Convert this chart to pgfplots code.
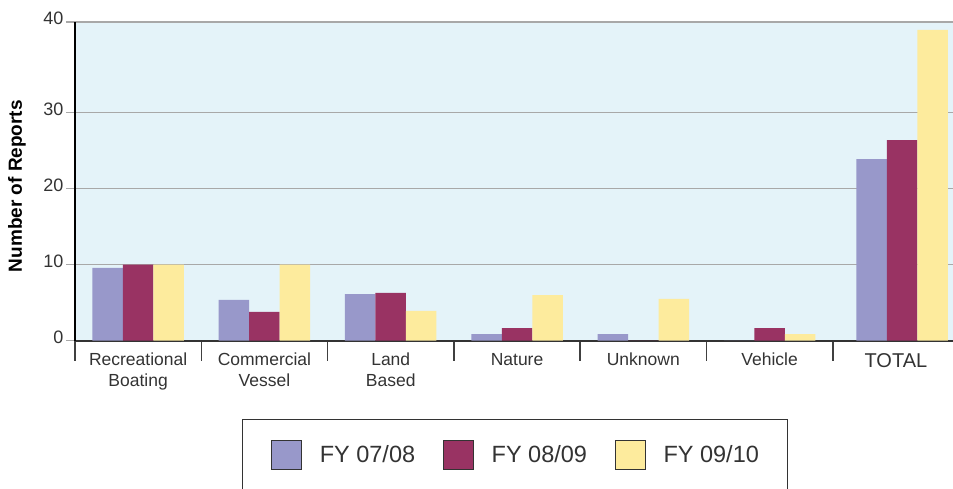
\documentclass[border=0pt]{standalone}
\usepackage{fontspec}
\setmainfont{Liberation Sans}
\usepackage{pgfplots}
\pgfplotsset{compat=1.18}
\definecolor{c1}{HTML}{9898CA}
\definecolor{c2}{HTML}{993363}
\definecolor{c3}{HTML}{FDEB9D}
\definecolor{bg}{HTML}{E4F3F9}
\definecolor{txt}{HTML}{333333}
\definecolor{grd}{HTML}{A8A8A8}
\begin{document}
\begin{tikzpicture}
\begin{axis}[
  at={(75pt,147.3pt)}, anchor=south west,
  scale only axis, width=878pt, height=318.7pt,
  xmin=-0.5, xmax=6.452, ymin=0, ymax=41.93,
  axis background/.style={fill=bg},
  axis lines*=left, axis line style={-},
  x axis line style={draw=black!80, line width=2pt},
  y axis line style={draw=black, line width=1.5pt},
  ybar=0pt, bar width=30.5pt,
  /pgf/number format/assume math mode=true,
  xtick={0,...,6},
  xticklabels={Recreational\\Boating, Commercial\\Vessel, Land\\Based, Nature, Unknown, Vehicle, {\fontsize{20}{24}\selectfont TOTAL}},
  xticklabel style={align=center, font=\fontsize{17.5}{21}\selectfont, text=txt},
  minor xtick={-0.5,0.5,...,5.5},
  tick align=outside,
  major x tick style={draw=none},
  minor x tick style={draw=black!75, line width=1.5pt},
  minor tick length=20pt,
  major tick length=9pt,
  ytick={0,10,20,30,41.93},
  yticklabels={0,10,20,30,40},
  yticklabel style={font=\fontsize{18}{21}\selectfont, text=txt, yshift=3.5pt, xshift=1pt},
  major y tick style={draw=grd, line width=1.3pt},
  ymajorgrids,
  grid style={draw=grd, line width=1.3pt},
  every axis y label/.style={at={(axis description cs:-0.066,0.485)}, rotate=90, anchor=center},
  ylabel={\fontsize{19}{22}\selectfont\bfseries Number of Reports},
  legend columns=3,
  legend image code/.code={\draw[#1, draw=black!80, line width=1pt] (0pt,-14.5pt) rectangle (29.5pt,14.5pt);},
  legend style={at={(0.19,-0.2457)}, anchor=north west, draw=black!80, line width=1pt, fill=white,
    font=\fontsize{23.5}{28}\selectfont, text=txt,
    inner xsep=29pt, inner ysep=20pt,
    nodes={inner xsep=0pt, inner ysep=2pt},
    /tikz/every odd column/.append style={column sep=18pt},
    /tikz/every even column/.append style={column sep=28pt}},
]
\addplot[fill=c1, draw=none] coordinates {(0,9.57) (1,5.36) (2,6.14) (3,0.88) (4,0.88) (5,0) (6.05,23.9)};
\addplot[fill=c2, draw=none] coordinates {(0,10) (1,3.78) (2,6.28) (3,1.67) (4,0) (5,1.67) (6.05,26.4)};
\addplot[fill=c3, draw=none] coordinates {(0,10) (1,10) (2,3.91) (3,6.01) (4,5.49) (5,0.88) (6.05,40.9)};
\legend{FY 07/08, FY 08/09, FY 09/10}
\end{axis}
\pgfresetboundingbox
\useasboundingbox (0,0) rectangle (953pt,488pt);
\end{tikzpicture}
\end{document}
